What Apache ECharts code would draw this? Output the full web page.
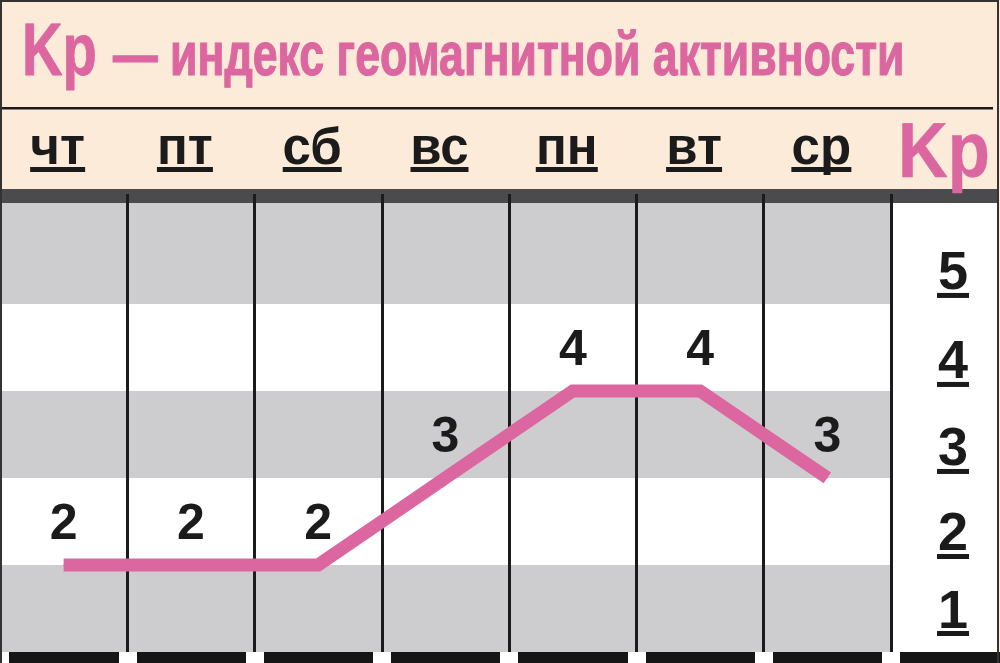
<!DOCTYPE html>
<html><head><meta charset="utf-8">
<script src="https://cdn.jsdelivr.net/npm/echarts@6/dist/echarts.min.js"></script>
<style>html,body{margin:0;padding:0;background:#fdebd9}#c{width:1000px;height:663px}</style>
</head><body><div id="c"></div>
<script>
// ---- data ----
const days = ['чт', 'пт', 'сб', 'вс', 'пн', 'вт', 'ср'];
const kpValues = [2, 2, 2, 3, 4, 4, 3];
const kpTicks = [1, 2, 3, 4, 5];
const titleMain = 'Kp';
const titleRest = '— индекс геомагнитной активности';
const axisName = 'Kp';

// ---- styles ----
const FONT = '"Liberation Sans", Arial, Helvetica, sans-serif';
const PINK = '#dc669f';
const INK = '#1b1b1b';
const GRAY = '#cdcdcf';
const PEACH = '#fdebd9';
const DAY_SIZE = 51;
const KP_SIZE = 54;
const KP_LABEL_LIFT = { 1: 12, 2: 2, 3: 0, 4: 0, 5: 2 }; // extra space below each right-hand label

const mctx = document.createElement('canvas').getContext('2d');
function measure(text, size) {
  mctx.font = 'bold ' + size + 'px ' + FONT;
  return mctx.measureText(text).width;
}
function fitText(text, size, left, baseline, width, color, strokeW) {
  const w = measure(text, size);
  return {
    type: 'text', x: left, y: baseline - 0.3465 * size, scaleX: width / w, z: 20,
    style: { text: text, font: 'bold ' + size + 'px ' + FONT, fill: color, stroke: color, lineWidth: strokeW,
             align: 'left', verticalAlign: 'middle' }
  };
}

// rich styles: label text + underline exactly as wide as the text
const dayRich = { d: { fontSize: DAY_SIZE, fontWeight: 'bold', fontFamily: FONT, color: INK, lineHeight: 41 } };
days.forEach((d, i) => {
  dayRich['u' + i] = { width: Math.round(measure(d, DAY_SIZE)), height: 5, lineHeight: 5, backgroundColor: INK };
});
const kpRich = { n: { fontSize: KP_SIZE, fontWeight: 'bold', fontFamily: FONT, color: INK, lineHeight: 45 } };
kpTicks.forEach(k => {
  kpRich['u' + k] = { width: Math.round(measure(String(k), KP_SIZE)) + 2, height: 5, lineHeight: 5, backgroundColor: INK };
  kpRich['s' + k] = { height: KP_LABEL_LIFT[k] || 0.01, lineHeight: KP_LABEL_LIFT[k] || 0.01 };
});

const chart = echarts.init(document.getElementById('c'), null, { renderer: 'svg', width: 1000, height: 663 });

const option = {
  backgroundColor: PEACH,
  animation: false,
  grid: { left: 0, right: 109, top: 203, bottom: 11 },
  xAxis: [
    {
      type: 'category', data: days, position: 'top', boundaryGap: true,
      axisLine: { show: false },
      axisTick: { show: true, inside: false, length: 9, lineStyle: { color: INK, width: 3 } },
      splitLine: { show: true, lineStyle: { color: INK, width: 3 } },
      axisLabel: {
        margin: 31, padding: [0, 12, 0, 0], interval: 0,
        formatter: (v, i) => '{d|' + v + '}\n{u' + i + '|}',
        rich: dayRich
      }
    },
    {
      type: 'category', data: days, position: 'bottom', boundaryGap: true,
      axisLine: { show: false },
      axisTick: { show: true, length: 11, lineStyle: { color: '#ffffff', width: 18 } },
      axisLabel: { show: false },
      splitLine: { show: false }
    }
  ],
  yAxis: {
    type: 'value', min: 1, max: 6.16, interval: 1, position: 'right',
    axisLine: { show: false }, axisTick: { show: false }, splitLine: { show: false },
    splitArea: { show: true, areaStyle: { color: [GRAY, '#ffffff', GRAY, '#ffffff', GRAY, GRAY] } },
    axisLabel: {
      margin: 62, align: 'center', verticalAlign: 'bottom', padding: [0, 0, 4, 0],
      formatter: v => kpTicks.indexOf(v) >= 0 ? '{n|' + v + '}\n{u' + v + '|}\n{s' + v + '|}' : '',
      rich: kpRich
    }
  },
  series: [{
    type: 'line', data: kpValues, xAxisIndex: 0, yAxisIndex: 0,
    symbol: 'circle', symbolSize: 1, itemStyle: { color: PINK },
    lineStyle: { color: PINK, width: 13, join: 'miter', cap: 'butt' },
    label: { show: true, position: 'top', distance: 17, fontSize: 50, fontWeight: 'bold', fontFamily: FONT, color: INK },
    z: 5
  }],
  graphic: [
    { type: 'rect', z: -10, shape: { x: 891, y: 203, width: 108, height: 449 }, style: { fill: '#ffffff' } },
    { type: 'rect', z: -10, shape: { x: 0, y: 189, width: 998, height: 14 }, style: { fill: '#4b4b4d' } },
    { type: 'rect', z: -10, shape: { x: 0, y: 107, width: 993, height: 2.5 }, style: { fill: INK } },
    { type: 'rect', z: -10, shape: { x: 0, y: 652, width: 1000, height: 11 }, style: { fill: '#161616' } },
    { type: 'rect', z: 50, shape: { x: 1, y: 1, width: 997, height: 670 }, style: { fill: 'none', stroke: '#333333', lineWidth: 2 } },
    fitText(titleMain, 74, 22, 75, 75, PINK, 0.8),
    fitText(titleRest, 62, 113, 75, 792, PINK, 1.2),
    fitText(axisName, 77, 898, 177, 92, PINK, 0.5)
  ]
};
chart.setOption(option);
</script>
</body></html>
